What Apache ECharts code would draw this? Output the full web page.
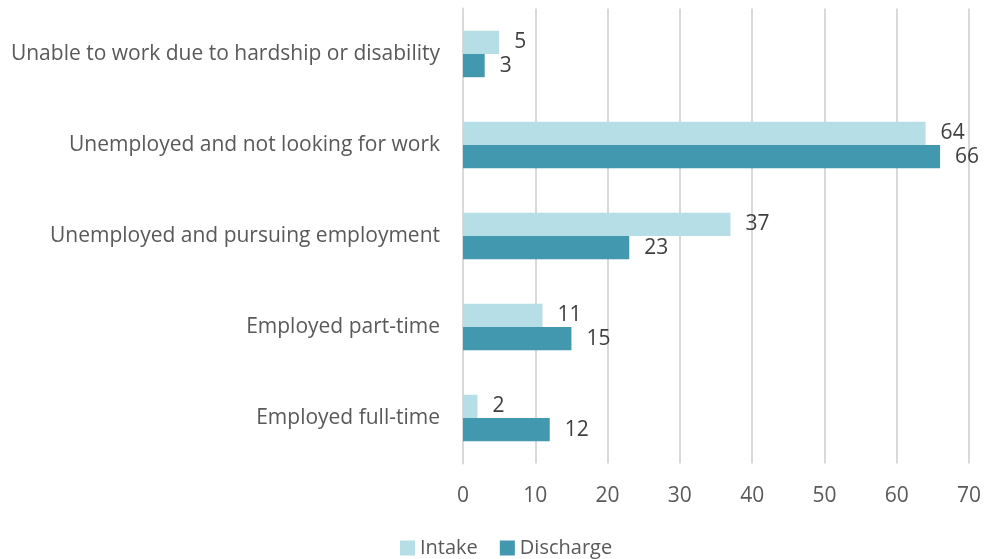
<!DOCTYPE html>
<html>
<head>
<meta charset="utf-8">
<script src="https://cdn.jsdelivr.net/npm/echarts@6/dist/echarts.min.js"></script>
<style>
  html, body { margin: 0; padding: 0; background: #fff; }
  #chart { width: 984px; height: 559px; }
</style>
</head>
<body>
<div id="chart"></div>
<script>
// Employment status categories, listed bottom to top on the axis
const categories = [
  'Employed full-time',
  'Employed part-time',
  'Unemployed and pursuing employment',
  'Unemployed and not looking for work',
  'Unable to work due to hardship or disability'
];
const intake = [2, 11, 37, 64, 5];
const discharge = [12, 15, 23, 66, 3];
const xTicks = { min: 0, max: 70, interval: 10 };

const FONT = '"Open Sans", Lato, "Liberation Sans", sans-serif';
const TEXT = '#595959';
const SIZE = 21;

const chart = echarts.init(document.getElementById('chart'), null, { renderer: 'canvas' });

const labelStyle = {
  show: true,
  position: 'right',
  distance: 15,
  color: '#404040',
  fontFamily: FONT,
  fontSize: SIZE
};

chart.setOption({
  animation: false,
  grid: { left: 463, right: 13.5, top: 8.5, bottom: 95.5, containLabel: false },
  legend: {
    top: 533,
    left: 395,
    itemWidth: 15,
    itemHeight: 15,
    itemGap: 22,
    itemTextGap: 5,
    icon: 'rect',
    textStyle: { color: TEXT, fontFamily: FONT, fontSize: 20 },
    data: ['Intake', 'Discharge']
  },
  xAxis: {
    type: 'value',
    min: xTicks.min,
    max: xTicks.max,
    interval: xTicks.interval,
    axisLine: { show: false },
    axisTick: { show: false },
    splitLine: { lineStyle: { color: '#d9d9d9', width: 2 } },
    axisLabel: { color: TEXT, fontFamily: FONT, fontSize: SIZE, margin: 22 }
  },
  yAxis: {
    type: 'category',
    data: categories,
    axisLine: { show: true, lineStyle: { color: '#d9d9d9', width: 2 } },
    axisTick: { show: false },
    axisLabel: { color: TEXT, fontFamily: FONT, fontSize: SIZE, margin: 23 }
  },
  series: [
    {
      name: 'Intake',
      type: 'bar',
      data: intake,
      barGap: '0%',
      barCategoryGap: '49%',
      itemStyle: { color: '#b6dee7' },
      label: labelStyle
    },
    {
      name: 'Discharge',
      type: 'bar',
      data: discharge,
      barGap: '0%',
      barCategoryGap: '49%',
      itemStyle: { color: '#4298ae' },
      label: labelStyle
    }
  ]
});
</script>
</body>
</html>
